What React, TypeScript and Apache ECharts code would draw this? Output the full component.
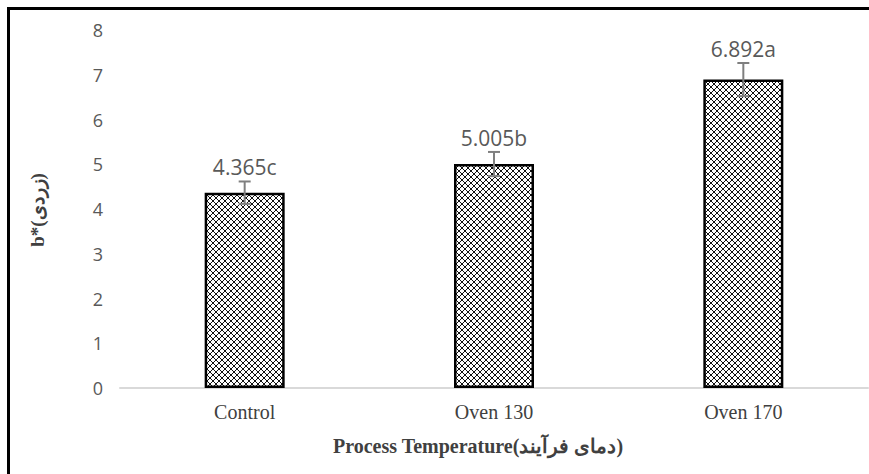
import React, { useEffect, useRef } from "react";
import * as echarts from "echarts";

// Yellowness (b*) by process temperature
const categories = ["Control", "Oven 130", "Oven 170"];
const means = [4.365, 5.005, 6.892];
const errors = [0.25, 0.27, 0.37];
const letters = ["c", "b", "a"];

const Y_MIN = 0;
const Y_MAX = 8;
const Y_STEP = 1;

function makeHatch(): HTMLCanvasElement {
  const size = 6;
  const c = document.createElement("canvas");
  c.width = size;
  c.height = size;
  const ctx = c.getContext("2d")!;
  ctx.fillStyle = "#ffffff";
  ctx.fillRect(0, 0, size, size);
  ctx.fillStyle = "#111111";
  for (let x = 0; x < size; x++) {
    for (let y = 0; y < size; y++) {
      if (x === y || x + y === size - 1) ctx.fillRect(x, y, 1, 1);
    }
  }
  return c;
}

export default function App() {
  const ref = useRef<HTMLDivElement>(null);

  useEffect(() => {
    if (!ref.current) return;
    document.documentElement.style.overflow = "hidden";
    document.body.style.overflow = "hidden";
    document.body.style.margin = "0";
    const chart = echarts.init(ref.current, undefined, { renderer: "svg" });
    const hatch = makeHatch();

    chart.setOption({
      animation: false,
      backgroundColor: "#ffffff",
      grid: { left: 120, right: 1, top: 30, bottom: 86 },
      xAxis: {
        type: "category",
        data: categories,
        axisLine: { lineStyle: { color: "#d9d9d9", width: 2 } },
        axisTick: { show: false },
        axisLabel: {
          color: "#404040",
          fontFamily: "Liberation Serif",
          fontSize: 20,
          margin: 14,
        },
      },
      yAxis: {
        type: "value",
        min: Y_MIN,
        max: Y_MAX,
        interval: Y_STEP,
        axisLine: { show: false },
        axisTick: { show: false },
        splitLine: { show: false },
        axisLabel: {
          color: "#595959",
          fontFamily: "Open Sans",
          fontSize: 18,
          margin: 17,
        },
      },
      graphic: [
        {
          type: "line",
          shape: { x1: 7, y1: 8.5, x2: 869, y2: 8.5 },
          style: { stroke: "#000", lineWidth: 3 },
        },
        {
          type: "line",
          shape: { x1: 8.5, y1: 7, x2: 8.5, y2: 474 },
          style: { stroke: "#000", lineWidth: 3 },
        },
        {
          type: "text",
          x: 478,
          y: 446,
          style: {
            text: "Process Temperature(دمای فرآیند)",
            fill: "#404040",
            font: "bold 20px 'Liberation Serif'",
            align: "center",
            verticalAlign: "middle",
          },
        },
        {
          type: "text",
          x: 37,
          y: 210,
          rotation: Math.PI / 2,
          style: {
            text: "b*(زردی)",
            fill: "#404040",
            font: "bold 19px 'Liberation Serif'",
            align: "center",
            verticalAlign: "middle",
          },
        },
      ],
      series: [
        {
          type: "bar",
          data: means,
          barWidth: 80,
          itemStyle: {
            color: { image: hatch, repeat: "repeat" },
            borderColor: "#000000",
            borderWidth: 2.5,
          },
        },
        {
          type: "custom",
          data: means.map((m, i) => [i, m, errors[i]]),
          renderItem: (params: any, api: any) => {
            const i = api.value(0);
            const m = api.value(1);
            const e = api.value(2);
            const top = api.coord([i, m + e]);
            const bot = api.coord([i, m - e]);
            const cap = 6;
            const style = { stroke: "#7f7f7f", lineWidth: 2 };
            return {
              type: "group",
              children: [
                { type: "line", shape: { x1: top[0], y1: top[1], x2: bot[0], y2: bot[1] }, style },
                { type: "line", shape: { x1: top[0] - cap, y1: top[1], x2: top[0] + cap, y2: top[1] }, style },
                { type: "line", shape: { x1: bot[0] - cap, y1: bot[1], x2: bot[0] + cap, y2: bot[1] }, style },
                {
                  type: "text",
                  x: top[0],
                  y: top[1] - 14,
                  style: {
                    text: m.toFixed(3) + letters[params.dataIndex],
                    fill: "#595959",
                    font: "21px 'Open Sans'",
                    align: "center",
                    verticalAlign: "middle",
                  },
                },
              ],
            };
          },
          z: 3,
        },
      ],
    });

    return () => chart.dispose();
  }, []);

  return (
    <div
      ref={ref}
      style={{ position: "fixed", left: 0, top: 0, width: 869, height: 474 }}
    />
  );
}
